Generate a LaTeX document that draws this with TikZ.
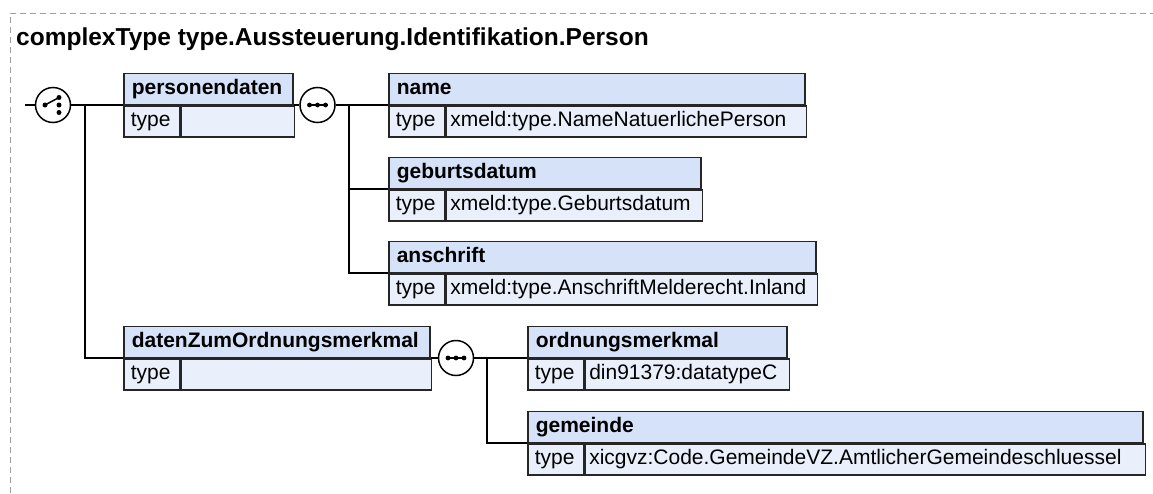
\documentclass[tikz,border=0pt]{standalone}
\usepackage{fontspec}
\setmainfont{Liberation Sans}
\usepackage{tikz}
\usetikzlibrary{positioning,calc}
\definecolor{xsblue}{RGB}{213,226,248}
\definecolor{xsrow}{RGB}{234,240,251}
\definecolor{xsgray}{RGB}{160,160,160}
\tikzset{
xshead/.style={rectangle,draw=black!85,line width=1.5pt,fill=xsblue,anchor=south west,align=left,inner xsep=8pt,inner ysep=0pt,minimum height=31pt,text height=16pt,text depth=5pt,font=\fontsize{21}{25}\selectfont\bfseries},
xstype/.style={rectangle,draw=black!85,line width=1.5pt,fill=xsrow,anchor=north west,align=left,inner xsep=7pt,inner ysep=0pt,minimum width=56pt,text width=42pt,minimum height=31pt,text height=16pt,text depth=5pt,font=\fontsize{21}{25}\selectfont},
xsval/.style={xstype,inner xsep=4pt},
xscomp/.style={circle,draw=black,line width=1.5pt,fill=white,inner sep=0pt,minimum size=35pt},
xsline/.style={line width=1.5pt,black},
xsframe/.style={xsgray,line width=1pt,dash pattern=on 6pt off 4pt},
xstitle/.style={font=\fontsize{24.5}{29}\selectfont\bfseries,inner sep=0pt,anchor=base west}
}
\begin{document}
\begin{tikzpicture}[
x=1pt,
y=1pt
]
\useasboundingbox (0,0) rectangle (1153,-493);
\draw[xsframe] (10,-493)--(10,-13)--(1153,-13);
\node[xstitle] (title) at (16,-45) {complexType type.Aussteuerung.Identifikation.Person};
% compositors
\node[xscomp] (choice) at (53,-105) {};
\node[xscomp] (seqone) at (317.5,-105) {};
\node[xscomp] (seqtwo) at (456,-358) {};
% elements
\node[xshead,minimum width=169pt,text width=153pt]
  (pdaten) at (123,-105) {personendaten};
\node[xstype] (pdatentype) at (pdaten.south west) {type};
\node[xsval,minimum width=113pt,text width=105pt]
  (pdatenval) at (pdatentype.north east) {};
\node[xshead,minimum width=416pt,text width=400pt]
  (name) at (388,-105) {name};
\node[xstype] (nametype) at (name.south west) {type};
\node[xsval,minimum width=360pt,text width=352pt]
  (nameval) at (nametype.north east) {xmeld:type.NameNatuerlichePerson};
\node[xshead,minimum width=312pt,text width=296pt]
  (gebdatum) at (388,-189) {geburtsdatum};
\node[xstype] (gebdatumtype) at (gebdatum.south west) {type};
\node[xsval,minimum width=256pt,text width=248pt]
  (gebdatumval) at (gebdatumtype.north east) {xmeld:type.Geburtsdatum};
\node[xshead,minimum width=427pt,text width=411pt]
  (anschrift) at (388,-273) {anschrift};
\node[xstype] (anschrifttype) at (anschrift.south west) {type};
\node[xsval,minimum width=371pt,text width=363pt]
  (anschriftval) at (anschrifttype.north east) {xmeld:type.AnschriftMelderecht.Inland};
\node[xshead,minimum width=306pt,text width=290pt]
  (ordnung) at (123,-358) {datenZumOrdnungsmerkmal};
\node[xstype] (ordnungtype) at (ordnung.south west) {type};
\node[xsval,minimum width=250pt,text width=242pt]
  (ordnungval) at (ordnungtype.north east) {};
\node[xshead,minimum width=259pt,text width=243pt]
  (merkmal) at (527,-358) {ordnungsmerkmal};
\node[xstype,minimum width=55pt] (merkmaltype) at (merkmal.south west) {type};
\node[xsval,minimum width=204pt,text width=196pt]
  (merkmalval) at (merkmaltype.north east) {din91379:datatypeC};
\node[xshead,minimum width=615pt,text width=599pt]
  (gemeinde) at (527,-443) {gemeinde};
\node[xstype,minimum width=55pt] (gemeindetype) at (gemeinde.south west) {type};
\node[xsval,minimum width=560pt,text width=552pt]
  (gemeindeval) at (gemeindetype.north east) {xicgvz:Code.GemeindeVZ.AmtlicherGemeindeschluessel};
% symbols
\draw[xsline] ($(choice)+(-8,0)$)--($(choice)+(6,7.5)$);
\foreach \dy in {7.5,0,-7.5}
  \fill ($(choice)+(6,\dy)$) circle (2.5);
\fill ($(choice)+(-8,0)$) circle (2.5);
\foreach \sq in {seqone,seqtwo}{
  \draw[xsline] ($(\sq)+(-10,0)$)--($(\sq)+(10,0)$);
  \foreach \dx in {-8,0,8}
    \fill ($(\sq)+(\dx,0)$) circle (2.4);
}
% connectors
\coordinate (entry) at (25,-105);
\coordinate (choicebus) at (85,-105);
\coordinate (seqonebus) at (349,-105);
\coordinate (seqtwobus) at (487,-358);
\draw[xsline] (entry)--(choice);
\draw[xsline] (choice)--(pdaten.south west);
\draw[xsline] (choicebus)|-(ordnung.south west);
\draw[xsline] (pdaten.south east)--(seqone);
\draw[xsline] (seqone)--(name.south west);
\draw[xsline] (seqonebus)|-(gebdatum.south west);
\draw[xsline] (seqonebus)|-(anschrift.south west);
\draw[xsline] (ordnung.south east)--(seqtwo);
\draw[xsline] (seqtwo)--(merkmal.south west);
\draw[xsline] (seqtwobus)|-(gemeinde.south west);
\end{tikzpicture}
\end{document}
